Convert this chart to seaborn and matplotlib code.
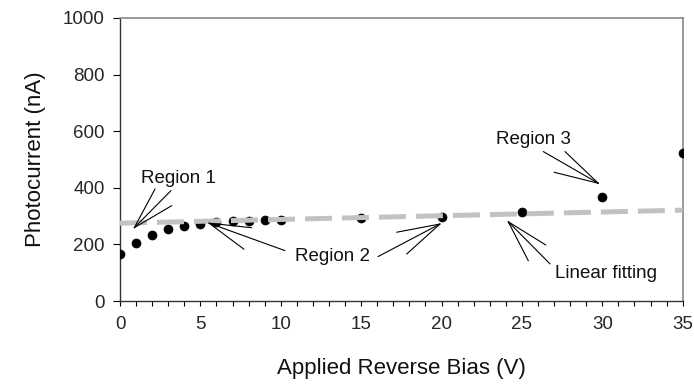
import matplotlib
matplotlib.use("Agg")
import matplotlib.pyplot as plt
from matplotlib.ticker import MultipleLocator
import numpy as np
import pandas as pd
import seaborn as sns

# Measured photocurrent versus applied reverse bias
bias_v = [0, 1, 2, 3, 4, 5, 6, 7, 8, 9, 10, 15, 20, 25, 30, 35]
photocurrent_na = [165, 206, 233, 255, 265, 273, 278, 283, 283, 285, 287, 292, 298, 313, 366, 524]

# Linear fit through the plateau region (end points)
fit_bias_v = [0, 35]
fit_current_na = [275, 321]

sns.set_theme(style="white")
plt.rcParams["font.family"] = ["Liberation Sans", "DejaVu Sans"]

df = pd.DataFrame({"bias": bias_v, "current": photocurrent_na})
fit_df = pd.DataFrame({"bias": fit_bias_v, "current": fit_current_na})

fig = plt.figure(figsize=(6.94, 3.87), dpi=100)
ax = fig.add_axes([120 / 694, 1 - 301 / 387, 562.7 / 694, 283 / 387])

sns.scatterplot(data=df, x="bias", y="current", ax=ax, color="black",
                s=42, edgecolor="black", linewidth=0.5, zorder=3)
sns.lineplot(data=fit_df, x="bias", y="current", ax=ax, color="#c2c2c2",
             linewidth=3.6, dashes=False, zorder=4)
fit_line = ax.lines[-1]
fit_line.set_dashes([5.4, 2.0])
fit_line.set_dash_capstyle("butt")

ax.set_xlim(0, 35)
ax.set_ylim(0, 1000)
ax.xaxis.set_major_locator(MultipleLocator(5))
ax.xaxis.set_minor_locator(MultipleLocator(1))
ax.yaxis.set_major_locator(MultipleLocator(200))

ax.tick_params(axis="x", which="both", direction="out", length=3.5, width=0.8,
               color="black", bottom=True, labelsize=13.5, pad=7)
ax.tick_params(axis="y", which="major", direction="out", length=5, width=0.8,
               color="black", left=True, labelsize=13.5, pad=6)

for side in ("left", "bottom"):
    ax.spines[side].set_color("#333333")
    ax.spines[side].set_linewidth(1.0)
for side in ("top", "right"):
    ax.spines[side].set_color("#888888")
    ax.spines[side].set_linewidth(1.2)

ax.set_xlabel("Applied Reverse Bias (V)", fontsize=16, labelpad=18, color="#111111")
ax.set_ylabel("Photocurrent (nA)", fontsize=16, labelpad=12, color="#111111")

line_kw = dict(arrowstyle="-", color="black", linewidth=0.8, shrinkA=0, shrinkB=0)


def callout(tip, ends):
    for end in ends:
        ax.annotate("", xy=tip, xytext=end, arrowprops=line_kw, zorder=5)


txt_kw = dict(fontsize=13.5, ha="center", va="center", color="#111111", zorder=6)

# Region 1
callout((0.89, 259), [(2.18, 396), (3.17, 390), (3.22, 337)])
ax.text(3.61, 432, "Region 1", **txt_kw)

# Region 2
callout((5.54, 275), [(8.19, 259), (7.71, 183), (10.26, 178)])
callout((19.9, 272), [(16.05, 157), (17.21, 243), (17.83, 166)])
ax.text(13.22, 159, "Region 2", **txt_kw)

# Linear fitting
callout((24.15, 280), [(25.4, 142), (26.48, 198), (26.75, 131)])
ax.text(30.25, 98, "Linear fitting", **txt_kw)

# Region 3
callout((29.75, 416), [(26.33, 528), (27.68, 528), (27.0, 455)])
ax.text(25.74, 571, "Region 3", **txt_kw)

fig.savefig("out.png", dpi=100)
